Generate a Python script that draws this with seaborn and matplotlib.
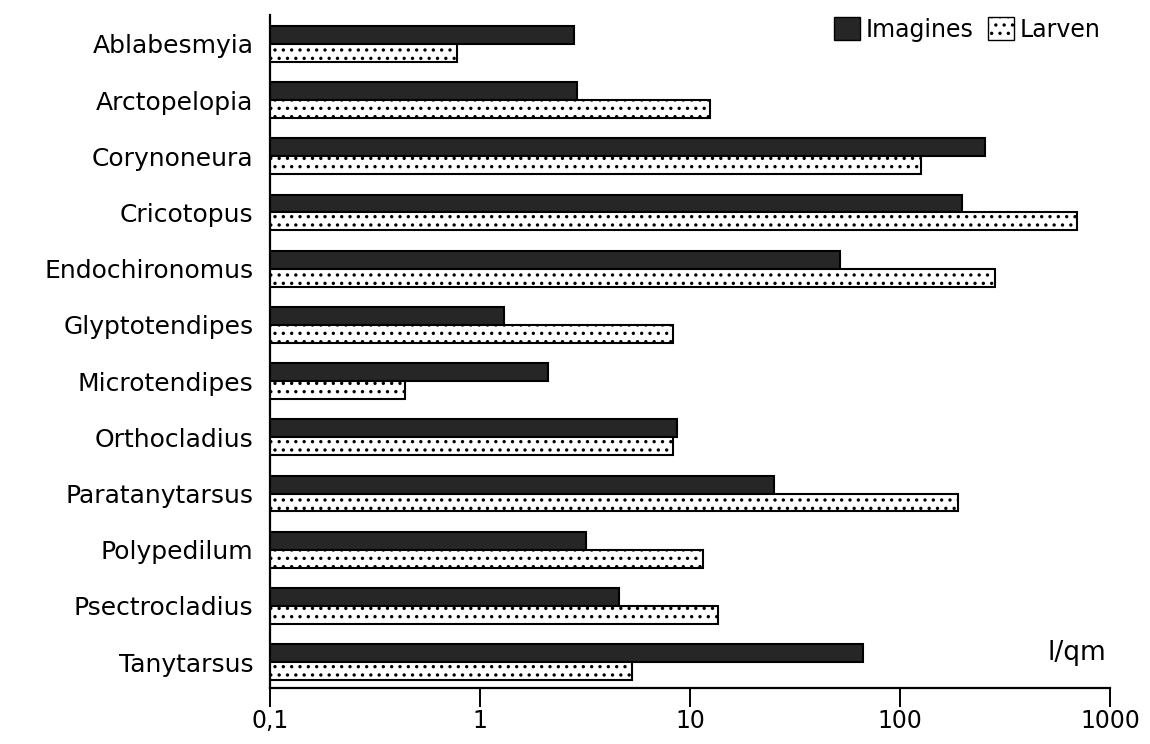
import pandas as pd
import seaborn as sns
import matplotlib.pyplot as plt
from matplotlib.patches import Patch
from matplotlib.ticker import FixedLocator, NullLocator

# Data (Individuen pro qm)
gattungen = ['Ablabesmyia', 'Arctopelopia', 'Corynoneura', 'Cricotopus', 'Endochironomus',
             'Glyptotendipes', 'Microtendipes', 'Orthocladius', 'Paratanytarsus',
             'Polypedilum', 'Psectrocladius', 'Tanytarsus']
imagines = [2.8, 2.9, 255, 197, 52, 1.3, 2.1, 8.7, 25, 3.2, 4.6, 67]
larven = [0.78, 12.4, 126, 700, 283, 8.3, 0.44, 8.3, 189, 11.5, 13.6, 5.3]
tick_vals = [0.1, 1, 10, 100, 1000]
tick_labels = ['0,1', '1', '10', '100', '1000']

df = pd.DataFrame({'Gattung': gattungen * 2,
                   'Wert': imagines + larven,
                   'Stadium': ['Imagines'] * len(gattungen) + ['Larven'] * len(gattungen)})

sns.set_style('white')
plt.rcParams['font.family'] = ['DejaVu Sans']
plt.rcParams['text.color'] = 'black'
plt.rcParams['hatch.linewidth'] = 1.2

fig = plt.figure(figsize=(11.5, 7.44), dpi=100)
ax = fig.add_axes([0.2348, 0.0753, 0.7304, 0.905])

sns.barplot(data=df, y='Gattung', x='Wert', hue='Stadium', orient='h',
            palette={'Imagines': '#262626', 'Larven': 'white'},
            width=0.64, gap=0, edgecolor='black', linewidth=1.5,
            legend=False, ax=ax)

# dotted fill for the Larven bars
n = len(gattungen)
for i, bar in enumerate(ax.patches):
    if i >= n:
        bar.set_hatch('..')

ax.set_xscale('log')
ax.set_xlim(0.1, 1000)
ax.set_ylim(11.46, -0.52)
ax.xaxis.set_major_locator(FixedLocator(tick_vals))
ax.xaxis.set_minor_locator(NullLocator())
ax.set_xticklabels(tick_labels)
ax.tick_params(axis='x', which='major', direction='out', length=14, width=1.4,
               labelsize=17, pad=1, bottom=True, color='black', labelcolor='black')
ax.tick_params(axis='y', length=0, labelsize=18, pad=12, labelcolor='black')
ax.set_xlabel('')
ax.set_ylabel('')

for s in ['top', 'right']:
    ax.spines[s].set_visible(False)
for s in ['left', 'bottom']:
    ax.spines[s].set_color('black')
    ax.spines[s].set_linewidth(1.6)

handles = [Patch(facecolor='#262626', edgecolor='black', label='Imagines'),
           Patch(facecolor='white', edgecolor='black', hatch='..', label='Larven')]
ax.legend(handles=handles, loc='upper right', bbox_to_anchor=(1.0, 1.01), ncol=2,
          frameon=False, fontsize=17, handlelength=1.1, handleheight=1.1,
          handletextpad=0.25, columnspacing=0.6, borderaxespad=0)

ax.text(0.995, 0.052, 'l/qm', transform=ax.transAxes, ha='right', va='center',
        fontsize=19)

fig.savefig('out.png', dpi=100, facecolor='white')
